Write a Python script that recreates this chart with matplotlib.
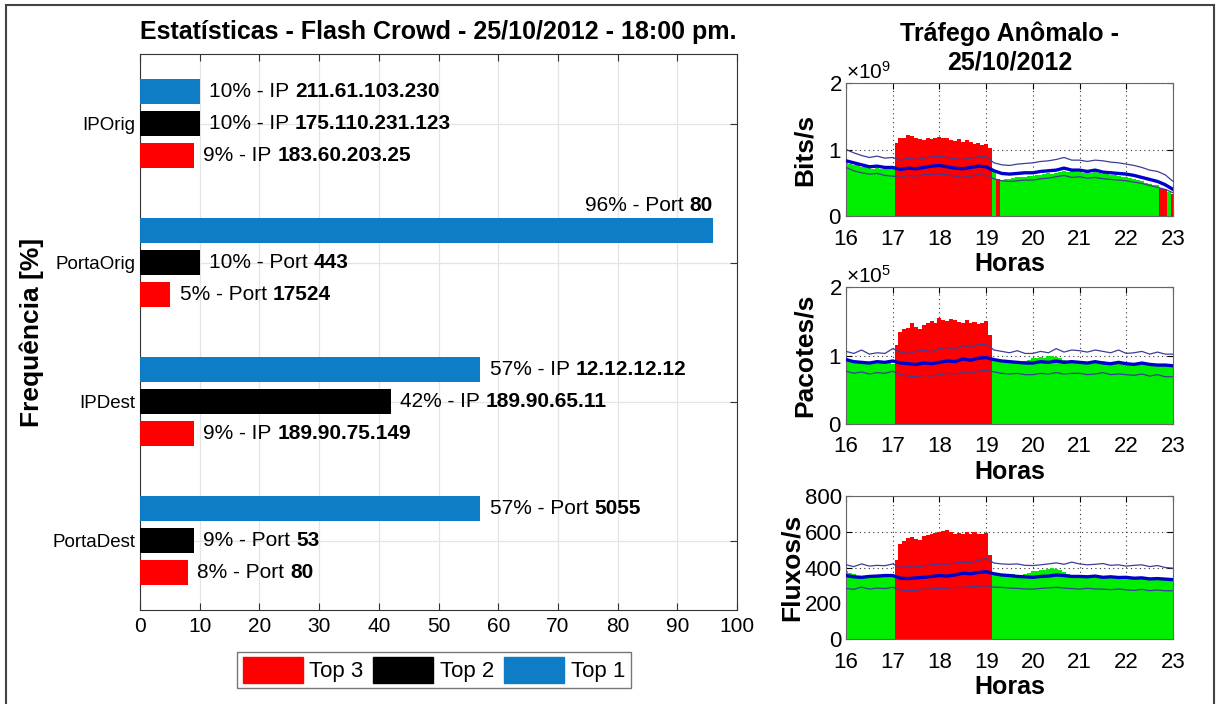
import numpy as np
import matplotlib
matplotlib.use("Agg")
import matplotlib.pyplot as plt
from matplotlib.ticker import ScalarFormatter
from matplotlib.patches import Rectangle, Patch

plt.rcParams['font.family'] = ['Liberation Sans', 'DejaVu Sans']
plt.rcParams['mathtext.fontset'] = 'custom'
plt.rcParams['mathtext.rm'] = 'Liberation Sans'

# ---------------- data: left chart ----------------
categories = ["IPOrig", "PortaOrig", "IPDest", "PortaDest"]
top1_vals = [10, 96, 57, 57]
top2_vals = [10, 10, 42, 9]
top3_vals = [9, 5, 9, 8]
top1_kind = ["IP", "Port", "IP", "Port"]
top1_ids = ["211.61.103.230", "80", "12.12.12.12", "5055"]
top2_ids = ["175.110.231.123", "443", "189.90.65.11", "53"]
top3_ids = ["183.60.203.25", "17524", "189.90.75.149", "80"]
series_names = ["Top 1", "Top 2", "Top 3"]

# ---------------- data: right charts ----------------
hours_5min = np.arange(16, 23 + 1e-9, 1 / 12)   # traffic samples
hours_10min = np.arange(16, 23 + 1e-9, 1 / 6)   # baseline samples

bits_traffic = [
    0.80, 0.78, 0.77, 0.76, 0.74, 0.73, 0.72, 0.71, 0.72, 0.71, 0.71, 0.70, 0.70,
    1.10, 1.18, 1.17, 1.22, 1.20, 1.17, 1.16, 1.15, 1.17, 1.16, 1.18, 1.19, 1.17,
    1.18, 1.15, 1.13, 1.16, 1.11, 1.14, 1.12, 1.09, 1.10, 1.07, 1.08, 1.02,
    0.68, 0.55, 0.54, 0.56, 0.55, 0.57, 0.58, 0.58, 0.59, 0.60,
    0.60, 0.61, 0.62, 0.63, 0.64, 0.63, 0.65, 0.66, 0.67, 0.66, 0.67, 0.66,
    0.66, 0.65, 0.66, 0.65, 0.66, 0.64, 0.63, 0.63, 0.62, 0.61, 0.60, 0.59,
    0.58, 0.57, 0.56, 0.54, 0.52, 0.50, 0.48, 0.47, 0.46, 0.42, 0.40, 0.36,
    0.33]
bits_mean = [0.83, 0.80, 0.77, 0.74, 0.75, 0.73, 0.73, 0.70, 0.72, 0.71, 0.73, 0.75,
             0.76, 0.74, 0.72, 0.71, 0.73, 0.75, 0.74, 0.68, 0.64, 0.63, 0.64, 0.65,
             0.65, 0.67, 0.68, 0.69, 0.72, 0.69, 0.69, 0.67, 0.69, 0.66, 0.65, 0.64,
             0.63, 0.61, 0.58, 0.55, 0.52, 0.47, 0.40]
bits_upper = [1.00, 0.95, 0.91, 0.88, 0.90, 0.87, 0.88, 0.84, 0.87, 0.85, 0.87, 0.89,
              0.90, 0.88, 0.86, 0.85, 0.87, 0.89, 0.89, 0.80, 0.77, 0.76, 0.78, 0.79,
              0.80, 0.82, 0.83, 0.85, 0.88, 0.84, 0.84, 0.82, 0.84, 0.83, 0.81, 0.80,
              0.78, 0.76, 0.73, 0.69, 0.67, 0.62, 0.52]
bits_lower = [0.73, 0.68, 0.65, 0.63, 0.64, 0.61, 0.60, 0.58, 0.61, 0.60, 0.62, 0.63,
              0.63, 0.62, 0.60, 0.58, 0.60, 0.62, 0.61, 0.56, 0.53, 0.52, 0.53, 0.54,
              0.54, 0.56, 0.57, 0.59, 0.61, 0.58, 0.59, 0.57, 0.58, 0.56, 0.55, 0.54,
              0.53, 0.51, 0.49, 0.46, 0.43, 0.40, 0.35]
bits_anomalies = [(17.05, 19.10), (19.22, 19.28), (22.72, 22.88), (22.96, 23.01)]

pkts_traffic = [
    0.96, 0.93, 0.92, 0.90, 0.91, 0.89, 0.88, 0.89, 0.90, 0.89, 0.90, 0.89, 0.88,
    1.15, 1.35, 1.38, 1.40, 1.48, 1.42, 1.38, 1.44, 1.47, 1.50, 1.48, 1.55, 1.52,
    1.50, 1.54, 1.52, 1.49, 1.48, 1.52, 1.47, 1.49, 1.46, 1.47, 1.51, 1.30,
    0.93, 0.92, 0.91, 0.90, 0.91, 0.92, 0.90, 0.91, 0.92, 0.94,
    0.96, 0.97, 0.98, 0.97, 0.99, 1.00, 0.98, 0.96, 0.93, 0.92, 0.91, 0.92,
    0.90, 0.91, 0.89, 0.90, 0.91, 0.90, 0.92, 0.90, 0.89, 0.90, 0.88, 0.89,
    0.89, 0.87, 0.88, 0.86, 0.87, 0.86, 0.85, 0.87, 0.86, 0.84, 0.85, 0.84,
    0.84]
pkts_mean = [0.94, 0.91, 0.90, 0.89, 0.91, 0.90, 0.92, 0.89, 0.88, 0.87, 0.89, 0.88,
             0.90, 0.92, 0.91, 0.95, 0.93, 0.96, 0.97, 0.94, 0.92, 0.91, 0.90, 0.89,
             0.89, 0.91, 0.90, 0.92, 0.90, 0.91, 0.90, 0.89, 0.91, 0.89, 0.88, 0.90,
             0.88, 0.87, 0.89, 0.87, 0.86, 0.86, 0.85]
pkts_upper = [1.06, 1.03, 1.08, 1.02, 1.04, 1.03, 1.10, 1.05, 1.03, 1.06, 1.08, 1.05,
              1.10, 1.12, 1.09, 1.15, 1.12, 1.16, 1.17, 1.08, 1.06, 1.04, 1.07, 1.03,
              1.03, 1.06, 1.04, 1.10, 1.05, 1.08, 1.07, 1.05, 1.08, 1.06, 1.04, 1.08,
              1.03, 1.04, 1.06, 1.02, 1.05, 1.02, 1.02]
pkts_lower = [0.77, 0.74, 0.76, 0.73, 0.75, 0.74, 0.77, 0.72, 0.70, 0.69, 0.71, 0.70,
              0.72, 0.74, 0.73, 0.75, 0.74, 0.77, 0.79, 0.76, 0.74, 0.73, 0.74, 0.72,
              0.72, 0.74, 0.73, 0.75, 0.73, 0.74, 0.74, 0.72, 0.73, 0.75, 0.72, 0.73,
              0.72, 0.71, 0.73, 0.70, 0.72, 0.69, 0.69]
pkts_anomalies = [(17.05, 19.10)]

flows_traffic = [
    380, 370, 362, 355, 352, 350, 348, 352, 355, 350, 353, 356, 355,
    440, 530, 550, 565, 570, 560, 555, 575, 580, 585, 595, 600, 605,
    610, 600, 590, 595, 585, 598, 590, 600, 585, 590, 595, 470,
    368, 365, 360, 358, 360, 362, 358, 360, 365, 370,
    378, 382, 385, 388, 392, 395, 390, 385, 375, 365, 360, 358,
    355, 352, 350, 354, 356, 352, 355, 350, 348, 352, 350, 346,
    345, 348, 342, 345, 340, 338, 340, 336, 338, 335, 334, 332,
    330]
flows_mean = [355, 348, 345, 350, 352, 355, 355, 340, 338, 342, 345, 350,
              355, 352, 358, 368, 365, 372, 377, 365, 358, 355, 350, 348,
              345, 350, 352, 358, 355, 350, 350, 348, 352, 345, 348, 344,
              345, 340, 342, 336, 338, 335, 332]
flows_upper = [415, 405, 420, 408, 412, 410, 420, 400, 405, 402, 410, 415,
               420, 418, 425, 430, 428, 440, 450, 425, 420, 418, 420, 412,
               411, 415, 420, 426, 418, 430, 420, 415, 418, 422, 412, 415,
               408, 412, 415, 405, 411, 400, 396]
flows_lower = [283, 278, 290, 279, 285, 282, 289, 275, 270, 272, 278, 280,
               283, 285, 288, 289, 292, 295, 298, 290, 289, 285, 283, 280,
               279, 283, 286, 289, 285, 282, 279, 284, 280, 279, 276, 280,
               275, 272, 278, 270, 274, 270, 270]
flows_anomalies = [(17.05, 19.10)]

# ---------------- styling ----------------
BLUE = "#0f7dc6"
BAR_COLORS = [BLUE, "#000000", "#ff0000"]
GREEN = "#00ee00"
RED = "#ff0000"
LBL = 15

W, H = 1218, 704
fig = plt.figure(figsize=(W / 100, H / 100), dpi=100)

def fx(px):
    return px / W

def fy(py):
    return 1 - py / H

# border frame around the whole figure
fig.patches.append(Rectangle((fx(6), -0.02), fx(1208), fy(5) + 0.02, transform=fig.transFigure,
                             fill=False, edgecolor="#444444", linewidth=1.5))

# ---------------- left bar chart ----------------
ax = fig.add_axes([fx(140), fy(610), fx(737 - 140), (610 - 54) / H])
ypos = np.arange(len(categories))
offset = 0.231
bh = 0.175
vals = [top1_vals, top2_vals, top3_vals]
ids = [top1_ids, top2_ids, top3_ids]
for j in range(3):
    ax.barh(ypos + (j - 1) * offset, vals[j], height=bh, color=BAR_COLORS[j],
            label=series_names[j], zorder=3)

ax.set_xlim(0, 100)
ax.set_ylim(3.5, -0.5)
ax.set_xticks(np.arange(0, 101, 10))
ax.set_yticks(ypos)
ax.set_yticklabels(categories, fontsize=13.5)
ax.tick_params(axis='x', labelsize=15, pad=5)
ax.tick_params(direction='in', top=True, right=True, length=5, color="#333333")
ax.grid(True, color="#e4e4e4", linewidth=0.9, zorder=0)
ax.set_axisbelow(True)
for s in ax.spines.values():
    s.set_color("#333333")
ax.set_ylabel("Frequência [%]", fontsize=19, fontweight='bold', labelpad=6)
ax.set_title("Estatísticas - Flash Crowd - 25/10/2012 - 18:00 pm.", fontsize=18,
             fontweight='bold', pad=11)

for i in range(len(categories)):
    for j in range(3):
        v = vals[j][i]
        y = ypos[i] + (j - 1) * offset
        kind = top1_kind[i]
        pre = f"{v}% - {kind} "
        bold = ids[j][i]
        if v > 90:
            tb = ax.annotate(bold, xy=(v, y - bh / 2), xytext=(0, 2), textcoords='offset points',
                             ha='right', va='bottom', fontsize=LBL, fontweight='bold')
            ax.annotate(pre, xy=(0, 0), xycoords=tb, ha='right', va='bottom', fontsize=LBL)
        else:
            t1 = ax.annotate(pre, xy=(v, y), xytext=(7, 0), textcoords='offset points',
                             ha='left', va='center', fontsize=LBL)
            ax.annotate(bold, xy=(1, 0), xycoords=t1, ha='left', va='bottom', fontsize=LBL,
                        fontweight='bold')

handles = [Patch(color=BAR_COLORS[2]), Patch(color=BAR_COLORS[1]), Patch(color=BAR_COLORS[0])]
fig.legend(handles, [series_names[2], series_names[1], series_names[0]], ncol=3,
           loc='center', bbox_to_anchor=(fx(434), fy(670)), fontsize=16, fancybox=False,
           edgecolor="#777777", framealpha=1, handlelength=2.7, handleheight=1.4,
           handletextpad=0.3, columnspacing=0.45, borderpad=0.25, borderaxespad=0)

# ---------------- right time-series charts ----------------
panels = [
    (83, 216, bits_traffic, bits_mean, bits_upper, bits_lower, bits_anomalies, 1e9, (0, 2), [0, 1, 2], "Bits/s"),
    (287, 424, pkts_traffic, pkts_mean, pkts_upper, pkts_lower, pkts_anomalies, 1e5, (0, 2), [0, 1, 2], "Pacotes/s"),
    (496, 639, flows_traffic, flows_mean, flows_upper, flows_lower, flows_anomalies, 1, (0, 800), [0, 200, 400, 600, 800], "Fluxos/s"),
]

for (top, bot, traffic, mean, upper, lower, anomalies, scale, ylim, yt, ylab) in panels:
    a = fig.add_axes([fx(846), fy(bot), fx(1173 - 846), (bot - top) / H])
    tr = np.array(traffic) * scale
    colors = []
    for t in hours_5min:
        is_anom = any(s <= t <= e for (s, e) in anomalies)
        colors.append(RED if is_anom else GREEN)
    a.bar(hours_5min, tr, width=1 / 12 * 1.05, color=colors, linewidth=0,
          antialiased=False, zorder=2)
    a.plot(hours_10min, np.array(upper) * scale, color="#3d3d99", linewidth=0.9, zorder=3)
    a.plot(hours_10min, np.array(lower) * scale, color="#3d3d99", linewidth=0.9, zorder=3)
    a.plot(hours_10min, np.array(mean) * scale, color="#0000cc", linewidth=2.4, zorder=4)
    a.set_xlim(16, 23)
    a.set_ylim(ylim[0] * scale, ylim[1] * scale)
    a.set_xticks(np.arange(16, 24, 1))
    a.set_yticks([v * scale for v in yt])
    if scale != 1:
        fmt = ScalarFormatter(useMathText=True)
        fmt.set_powerlimits((0, 0))
        a.yaxis.set_major_formatter(fmt)
        a.yaxis.get_offset_text().set_fontsize(15)
    a.tick_params(labelsize=16, direction='in', top=True, right=True, length=4)
    a.tick_params(axis='x', pad=9)
    a.tick_params(axis='y', pad=3)
    a.grid(True, linestyle=(0, (1, 3)), color="#333333", linewidth=0.8, zorder=1)
    for s in a.spines.values():
        s.set_color("#666666")
    a.set_ylabel(ylab, fontsize=19, fontweight='bold')
    a.yaxis.set_label_coords(-0.089 if scale != 1 else -0.128, 0.5)
    a.set_xlabel("Horas", fontsize=18, fontweight='bold', labelpad=2)
    if top == 83:
        a.set_title("Tráfego Anômalo -\n25/10/2012", fontsize=18, fontweight='bold', pad=10)

fig.savefig("out.png", dpi=100)
